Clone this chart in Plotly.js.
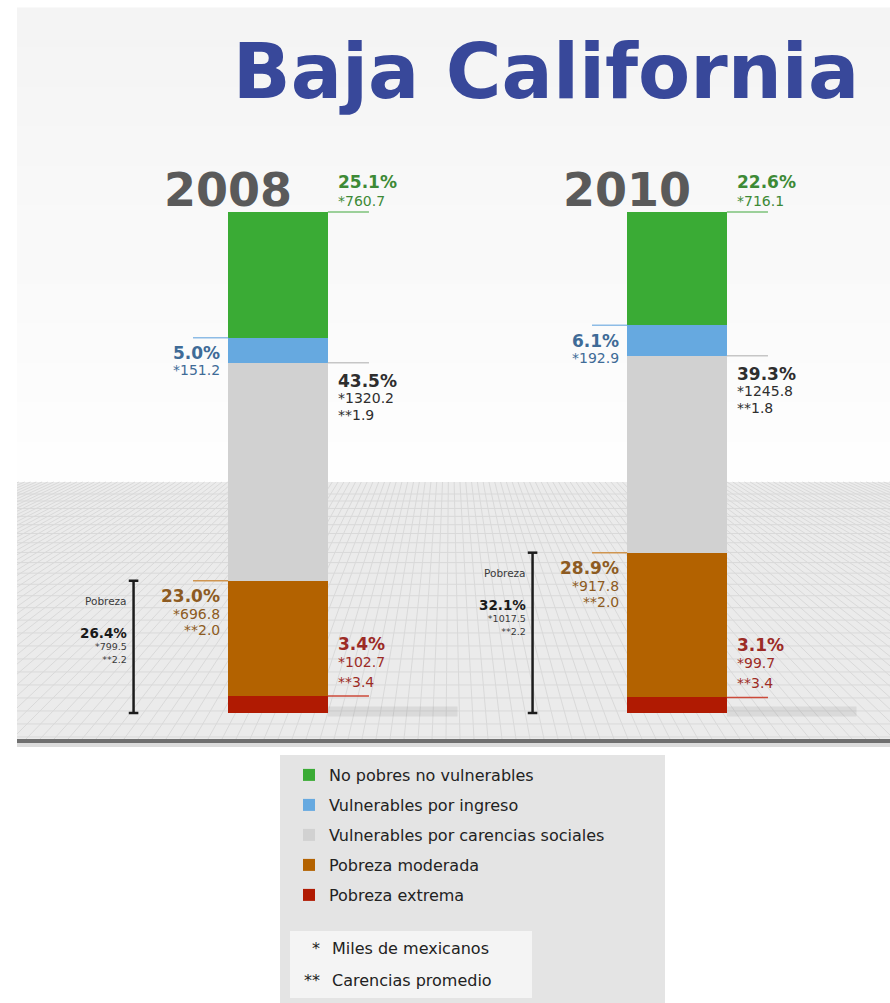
<!DOCTYPE html>
<html><head><meta charset="utf-8">
<script src="https://cdn.plot.ly/plotly-3.0.1.min.js"></script>
<style>html,body{margin:0;padding:0;background:#fff}#chart{width:890px;height:1003px}</style>
</head><body><div id="chart"></div>
<script>
// ---------------- DATA ----------------
const chartTitle = 'Baja California';
const years = ['2008', '2010'];
const categories = ['No pobres no vulnerables', 'Vulnerables por ingreso', 'Vulnerables por carencias sociales', 'Pobreza moderada', 'Pobreza extrema'];
const pct2008 = [25.1, 5.0, 43.5, 23.0, 3.4];
const pct2010 = [22.6, 6.1, 39.3, 28.9, 3.1];
const miles2008 = [760.7, 151.2, 1320.2, 696.8, 102.7];
const miles2010 = [716.1, 192.9, 1245.8, 917.8, 99.7];
const carencias2008 = [null, null, 1.9, 2.0, 3.4];
const carencias2010 = [null, null, 1.8, 2.0, 3.4];
const pobrezaLabel = 'Pobreza';
const pobrezaPct = [26.4, 32.1];
const pobrezaMiles = [799.5, 1017.5];
const pobrezaCarencias = [2.2, 2.2];
const footnoteMarks = ['*', '**'];
const footnoteTexts = ['Miles de mexicanos', 'Carencias promedio'];

// ---------------- STYLE ----------------
const W = 890, H = 1003;
const fx = px => px / W, fy = py => 1 - py / H;
const barColors  = ['#3aab35', '#66a9e0', '#d1d1d1', '#b36200', '#b01a02'];
const textColors = ['#3d8a36', '#3f6b97', '#2e2e2e', '#8d5b22', '#9c2b26'];
const lineColors = ['#7cc27a', '#8dbce6', '#c6c6c6', '#cf9550', '#cc4a3a'];
const sides = ['right', 'left', 'right', 'left', 'right'];
const lineOffsets = [[30, 11], [-15.5, -32.5], [-18, -35.5, -52], [-15, -33, -49.5], [52, 34, 14]];
const FONT = 'DejaVu Sans';
const BAR_W = 0.25;

const pctBy = [pct2008, pct2010];
const milesBy = [miles2008, miles2010];
const carBy = [carencias2008, carencias2010];
const xIdx = years.map((_, i) => i);

// traces (stack bottom -> top)
const traces = [];
for (let k = categories.length - 1; k >= 0; k--) {
  traces.push({
    type: 'bar', name: categories[k], x: xIdx, y: pctBy.map(p => p[k]),
    width: BAR_W, marker: { color: barColors[k], line: { width: 0 } },
    legendgroup: 'g' + k, legendrank: k + 1, hoverinfo: 'none'
  });
}

// cumulative tops
const tops = pctBy.map(p => p.map((_, k) => p.slice(k).reduce((a, b) => a + b, 0)));

const shapes = [];
const annotations = [];

// background panel gradient
const bandTop = 8, bandBot = 482, nb = 12;
for (let b = 0; b < nb; b++) {
  const y0 = bandTop + (bandBot - bandTop) * b / nb, y1 = bandTop + (bandBot - bandTop) * (b + 1) / nb;
  const v = Math.round(244 + (254 - 244) * b / (nb - 1));
  shapes.push({ type: 'rect', xref: 'paper', yref: 'paper', x0: fx(17), x1: fx(890), y0: fy(y1), y1: fy(y0) + 0.0005,
    fillcolor: `rgb(${v},${v},${v})`, line: { width: 0 }, layer: 'below' });
}
// floor
shapes.push({ type: 'rect', xref: 'paper', yref: 'paper', x0: fx(17), x1: fx(890), y0: fy(740), y1: fy(482),
  fillcolor: '#ebebeb', line: { width: 0 }, layer: 'below' });
// floor grid
(function () {
  let d = '';
  const fl = { x0: 17, x1: 890, y0: 482, y1: 739 };
  let y = 494, step = 7;
  while (y < fl.y1) { d += `M${fx(fl.x0)},${fy(y)}L${fx(fl.x1)},${fy(y)}`; y += step; step = Math.min(step + 0.45, 13); }
  const vp = { x: 450, y: 300 };
  const t = (fl.y1 - fl.y0) / (fl.y1 - vp.y);
  for (let xb = -800; xb <= 1700; xb += 14) {
    const ax = xb, ay = fl.y1, bx = xb + (vp.x - xb) * t, by = fl.y0;
    let s0 = 0, s1 = 1;
    const dx = bx - ax;
    if (Math.abs(dx) < 1e-9) { if (ax < fl.x0 || ax > fl.x1) continue; }
    else {
      let sa = (fl.x0 - ax) / dx, sb = (fl.x1 - ax) / dx;
      if (sa > sb) { const tmp = sa; sa = sb; sb = tmp; }
      s0 = Math.max(s0, sa); s1 = Math.min(s1, sb);
    }
    if (s0 >= s1) continue;
    const px0 = ax + dx * s0, py0 = ay + (by - ay) * s0, px1 = ax + dx * s1, py1 = ay + (by - ay) * s1;
    d += `M${fx(px0)},${fy(py0)}L${fx(px1)},${fy(py1)}`;
  }
  shapes.push({ type: 'path', xref: 'paper', yref: 'paper', path: d, line: { color: '#d9d9d9', width: 1 }, layer: 'below' });
})();
// floor bottom edge
shapes.push({ type: 'rect', xref: 'paper', yref: 'paper', x0: fx(17), x1: fx(890), y0: fy(743), y1: fy(739),
  fillcolor: '#707070', line: { width: 0 }, layer: 'below' });
shapes.push({ type: 'rect', xref: 'paper', yref: 'paper', x0: fx(17), x1: fx(890), y0: fy(747), y1: fy(743),
  fillcolor: '#dcdcdc', line: { width: 0 }, layer: 'below' });

// legend boxes
shapes.push({ type: 'rect', xref: 'paper', yref: 'paper', x0: fx(280), x1: fx(665), y0: fy(1003), y1: fy(755),
  fillcolor: '#e4e4e4', line: { width: 0 }, layer: 'below' });
shapes.push({ type: 'rect', xref: 'paper', yref: 'paper', x0: fx(290), x1: fx(532), y0: fy(998), y1: fy(931),
  fillcolor: '#f4f4f4', line: { width: 0 }, layer: 'below' });

years.forEach((yr, i) => {
  // bar shadow on the floor
  shapes.push({ type: 'rect', xref: 'x', yref: 'y', x0: i + BAR_W / 2, x1: i + 0.45, y0: -0.7, y1: 1.3,
    fillcolor: 'rgba(0,0,0,0.07)', line: { width: 0 }, layer: 'below' });
  // year label
  annotations.push({ xref: 'x', yref: 'y', x: i + 0.04, xanchor: 'right', y: tops[i][0], yanchor: 'middle', yshift: 22,
    text: yr, showarrow: false, font: { family: FONT, size: 46, weight: 700, color: '#5a5a5a' } });
  categories.forEach((c, k) => {
    const top = tops[i][k];
    const right = sides[k] === 'right';
    const lines = ['<b>' + pctBy[i][k].toFixed(1) + '%</b>', '*' + milesBy[i][k].toFixed(1)];
    if (carBy[i][k] != null) lines.push('**' + carBy[i][k].toFixed(1));
    lines.forEach((txt, j) => {
      annotations.push({ xref: 'x', yref: 'y', x: i + (right ? 0.145 : -0.14), xanchor: right ? 'left' : 'right',
        y: top, yanchor: 'middle', yshift: lineOffsets[k][j], text: txt, showarrow: false,
        font: { family: FONT, size: j === 0 ? 17 : 14, color: textColors[k] } });
    });
    shapes.push({ type: 'line', xref: 'x', yref: 'y', x0: right ? i + BAR_W / 2 : i - BAR_W / 2,
      x1: right ? i + 0.228 : i - 0.213, y0: top, y1: top, line: { color: lineColors[k], width: 1.5 } });
  });
  // poverty bracket
  const povTop = tops[i][3];
  const bx = i - 0.362;
  shapes.push({ type: 'line', xref: 'x', yref: 'y', x0: bx, x1: bx, y0: 0, y1: povTop, line: { color: '#1c1c1c', width: 2.5 } });
  [0, povTop].forEach(yv => shapes.push({ type: 'line', xref: 'x', yref: 'y', x0: bx - 0.012, x1: bx + 0.012, y0: yv, y1: yv,
    line: { color: '#1c1c1c', width: 2.5 } }));
  annotations.push({ xref: 'x', yref: 'y', x: i - 0.374, xanchor: 'right', y: povTop, yanchor: 'middle', yshift: -20,
    text: pobrezaLabel, showarrow: false, font: { family: FONT, size: 10.5, color: '#3a3a3a' } });
  annotations.push({ xref: 'x', yref: 'y', x: i - 0.374, xanchor: 'right', y: povTop, yanchor: 'middle', yshift: -64,
    align: 'right', showarrow: false, font: { family: FONT, size: 9.5, color: '#3a3a3a' },
    text: '<b><span style="font-size:13.5px;color:#1a1a1a">' + pobrezaPct[i].toFixed(1) + '%</span></b><br>*' +
      pobrezaMiles[i].toFixed(1) + '<br>**' + pobrezaCarencias[i].toFixed(1) });
});

// footnotes
footnoteMarks.forEach((m, j) => {
  const yc = [948, 980][j];
  annotations.push({ xref: 'paper', yref: 'paper', x: fx(322), xanchor: 'right', y: fy(yc), yanchor: 'middle',
    text: m, showarrow: false, font: { family: FONT, size: 16, color: '#222' } });
  annotations.push({ xref: 'paper', yref: 'paper', x: fx(330), xanchor: 'left', y: fy(yc), yanchor: 'middle',
    text: footnoteTexts[j], showarrow: false, font: { family: FONT, size: 16, color: '#222' } });
});

const layout = {
  width: W, height: H,
  margin: { l: 0, r: 0, t: 0, b: 0, pad: 0 },
  paper_bgcolor: '#ffffff', plot_bgcolor: 'rgba(0,0,0,0)',
  barmode: 'stack', bargap: 0,
  title: { text: chartTitle, x: fx(546), xanchor: 'center', y: fy(71), yanchor: 'middle',
    font: { family: FONT, size: 76, weight: 700, color: '#38489a' } },
  xaxis: { range: [-278 / 399, 612 / 399], visible: false, fixedrange: true },
  yaxis: { range: [-290 / 5.01, 713 / 5.01], visible: false, fixedrange: true },
  showlegend: true,
  legend: { x: fx(289), xanchor: 'left', y: fy(758), yanchor: 'top', bgcolor: 'rgba(0,0,0,0)',
    font: { family: FONT, size: 16, color: '#222' }, traceorder: 'grouped', tracegroupgap: 6.2 },
  shapes: shapes, annotations: annotations
};
Plotly.newPlot('chart', traces, layout, { displayModeBar: false, staticPlot: true });
</script></body></html>
